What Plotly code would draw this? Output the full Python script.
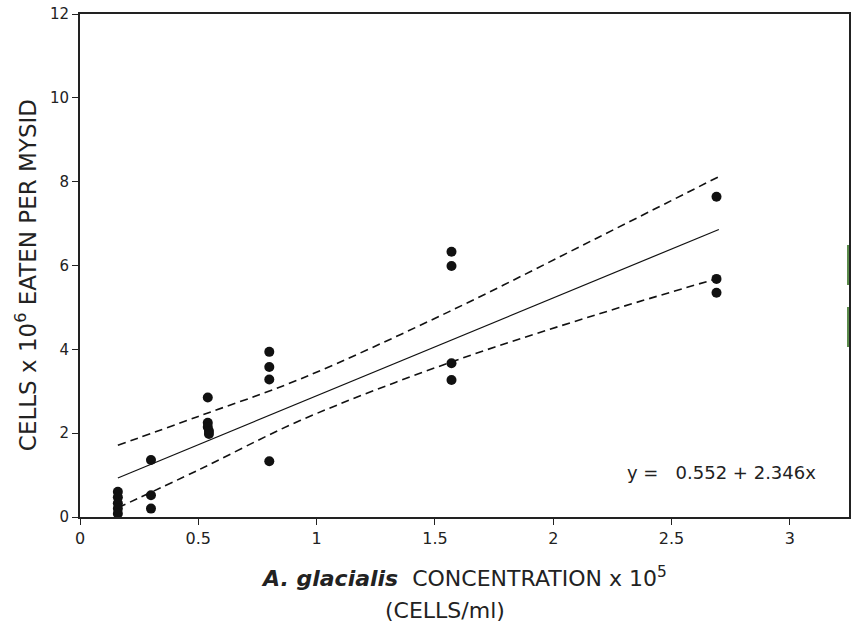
import plotly.graph_objects as go

# observed points
obs_x = [0.16, 0.16, 0.16, 0.16, 0.16,
         0.30, 0.30, 0.30,
         0.54, 0.54, 0.54, 0.545, 0.545,
         0.80, 0.80, 0.80, 0.80,
         1.57, 1.57, 1.57, 1.57,
         2.69, 2.69, 2.69]
obs_y = [0.60, 0.47, 0.33, 0.20, 0.08,
         1.36, 0.52, 0.20,
         2.85, 2.25, 2.15, 2.05, 1.98,
         3.94, 3.58, 3.28, 1.33,
         6.33, 5.99, 3.67, 3.27,
         7.64, 5.68, 5.35]

# fitted regression line (endpoints)
fit_x = [0.16, 2.70]
fit_y = [0.93, 6.86]

# confidence limits
band_x = [0.16, 0.50, 0.93, 1.56, 2.19, 2.70]
upper_y = [1.71, 2.40, 3.29, 4.90, 6.67, 8.12]
lower_y = [0.22, 1.12, 2.30, 3.68, 4.84, 5.70]

x_ticks = [0, 0.5, 1, 1.5, 2, 2.5, 3]
x_tick_text = ["0", "0.5", "1", "1.5", "2", "2.5", "3"]
y_ticks = [0, 2, 4, 6, 8, 10, 12]

FONT = "DejaVu Sans, Liberation Sans, sans-serif"
INK = "#222"

fig = go.Figure()
fig.add_trace(go.Scatter(x=band_x, y=upper_y, mode="lines", line=dict(color="#111", width=1.6, dash="8px,5px"),
                         line_shape="spline", hoverinfo="skip"))
fig.add_trace(go.Scatter(x=band_x, y=lower_y, mode="lines", line=dict(color="#111", width=1.6, dash="8px,5px"),
                         line_shape="spline", hoverinfo="skip"))
fig.add_trace(go.Scatter(x=fit_x, y=fit_y, mode="lines", line=dict(color="#111", width=1.2), hoverinfo="skip"))
fig.add_trace(go.Scatter(x=obs_x, y=obs_y, mode="markers", marker=dict(color="#111", size=10, line=dict(width=0))))

fig.update_layout(
    width=854, height=625,
    margin=dict(l=80, r=3, t=14, b=108),
    paper_bgcolor="white", plot_bgcolor="white",
    showlegend=False,
    font=dict(family=FONT, size=14, color=INK),
    xaxis=dict(range=[0, 3.25], tickvals=x_ticks, ticktext=x_tick_text, ticks="outside", ticklen=6,
               tickwidth=1.2, tickcolor=INK, showgrid=False, zeroline=False,
               showline=True, linecolor=INK, linewidth=2, mirror=True,
               tickfont=dict(family=FONT, size=16, color=INK)),
    yaxis=dict(range=[0, 12], tickvals=y_ticks, ticks="outside", ticklen=6,
               tickwidth=1.2, tickcolor=INK, showgrid=False, zeroline=False,
               showline=True, linecolor=INK, linewidth=2, mirror=True,
               tickfont=dict(family=FONT, size=15, color=INK)),
)

pw, ph = 854 - 80 - 3, 625 - 14 - 108
def px(xp):
    return (xp - 80) / pw
def py(yp):
    return (625 - 108 - yp) / ph

fig.add_annotation(text="y =\u00a0\u00a0\u00a00.552 + 2.346x", x=px(820), y=py(472), xref="paper", yref="paper",
                   xanchor="right", yanchor="middle", showarrow=False,
                   font=dict(family=FONT, size=18, color=INK))
fig.add_annotation(text="<b><i>A. glacialis</i></b>  CONCENTRATION x 10<sup>5</sup>", x=px(465), y=py(577),
                   xref="paper", yref="paper", xanchor="center", yanchor="middle", showarrow=False,
                   font=dict(family=FONT, size=22, color=INK))
fig.add_annotation(text="(CELLS/ml)", x=px(446), y=py(610), xref="paper", yref="paper",
                   xanchor="center", yanchor="middle", showarrow=False,
                   font=dict(family=FONT, size=22, color=INK))
fig.add_annotation(text="CELLS x 10<sup>6</sup> EATEN PER MYSID", x=px(26), y=py(275), xref="paper", yref="paper",
                   xanchor="center", yanchor="middle",
                   textangle=-90, showarrow=False, font=dict(family=FONT, size=23, color=INK))

# faint green scan marks on right border
for y0, y1 in [(245, 285), (307, 347)]:
    fig.add_shape(type="line", xref="paper", yref="paper", x0=px(850), x1=px(850), y0=py(y1), y1=py(y0),
                  line=dict(color="#5a8a4a", width=2))

fig.write_html("out.html")
